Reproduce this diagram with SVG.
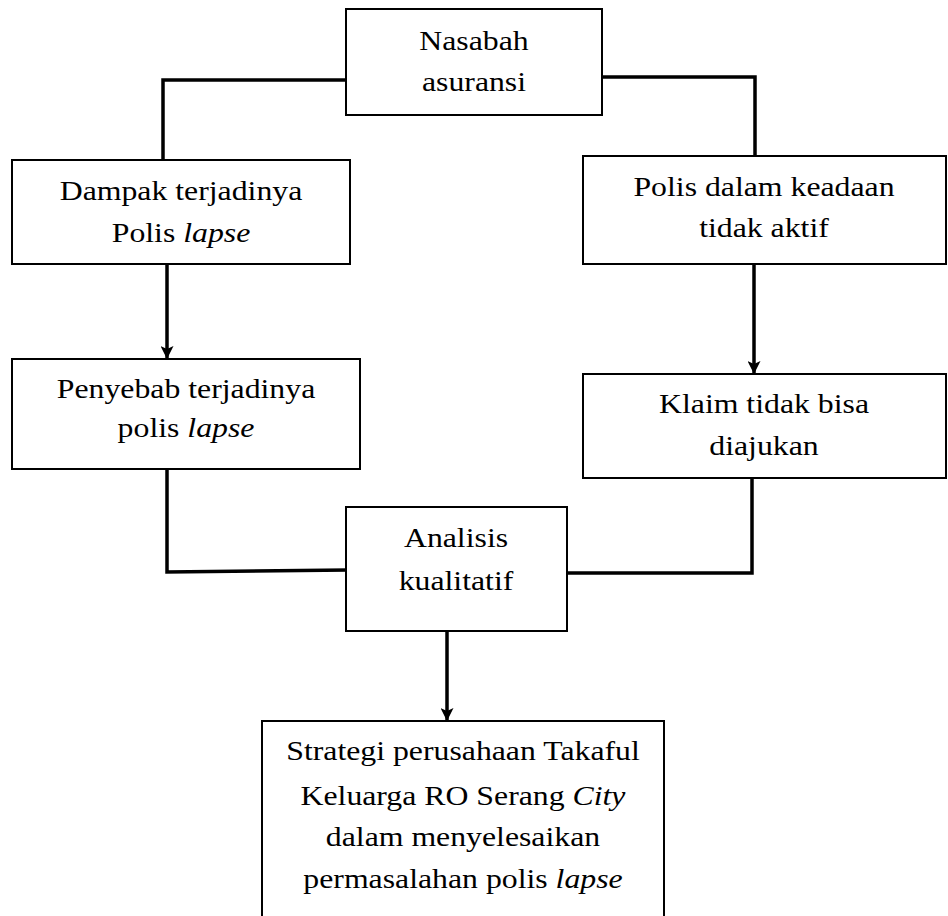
<svg xmlns="http://www.w3.org/2000/svg" width="948" height="916" viewBox="0 0 948 916">
<style>
.box{fill:#fff;stroke:#000;stroke-width:2}
.con{fill:none;stroke:#000;stroke-width:3.5;stroke-linejoin:miter;stroke-linecap:butt}
.t{font-family:"Liberation Serif","Times New Roman",serif;font-size:28px;fill:#000;text-anchor:middle}
.i{font-style:italic}
</style>
<defs>
<marker id="ah" markerUnits="userSpaceOnUse" markerWidth="13" markerHeight="13" viewBox="0 0 13 13" refX="13" refY="6.5" orient="auto">
<path d="M0,0 L13,6.5 L0,13 L3,6.5 z" fill="#000"/>
</marker>
</defs>
<rect width="948" height="916" fill="#fff"/>
<g id="connectors">
<polyline class="con" points="346,80 163,80 163,160"/>
<polyline class="con" points="602,77 755,77 755,156"/>
<line class="con" x1="167" y1="264" x2="167" y2="359" marker-end="url(#ah)"/>
<line class="con" x1="754" y1="264" x2="754" y2="374" marker-end="url(#ah)"/>
<polyline class="con" points="167,469 167,572 348,570"/>
<polyline class="con" points="752,478 752,573 568,573"/>
<line class="con" x1="447" y1="631" x2="447" y2="721" marker-end="url(#ah)"/>
</g>
<g id="n-nasabah">
<rect class="box" x="346" y="9" width="256" height="106"/>
<text class="t" transform="translate(474,50) scale(1.135,1)">Nasabah</text>
<text class="t" transform="translate(474,91) scale(1.135,1)">asuransi</text>
</g>
<g id="n-dampak">
<rect class="box" x="12" y="160" width="338" height="104"/>
<text class="t" transform="translate(181,200) scale(1.135,1)">Dampak terjadinya</text>
<text class="t" transform="translate(181,242) scale(1.135,1)">Polis <tspan class="i">lapse</tspan></text>
</g>
<g id="n-penyebab">
<rect class="box" x="12" y="359" width="348" height="110"/>
<text class="t" transform="translate(186,398) scale(1.135,1)">Penyebab terjadinya</text>
<text class="t" transform="translate(186,437) scale(1.135,1)">polis <tspan class="i">lapse</tspan></text>
</g>
<g id="n-polis">
<rect class="box" x="583" y="156" width="363" height="108"/>
<text class="t" transform="translate(764,196) scale(1.135,1)">Polis dalam keadaan</text>
<text class="t" transform="translate(764,237) scale(1.135,1)">tidak aktif</text>
</g>
<g id="n-klaim">
<rect class="box" x="583" y="374" width="363" height="104"/>
<text class="t" transform="translate(764,413) scale(1.135,1)">Klaim tidak bisa</text>
<text class="t" transform="translate(764,455) scale(1.135,1)">diajukan</text>
</g>
<g id="n-analisis">
<rect class="box" x="346" y="507" width="221" height="124"/>
<text class="t" transform="translate(456,547) scale(1.135,1)">Analisis</text>
<text class="t" transform="translate(456,590) scale(1.135,1)">kualitatif</text>
</g>
<g id="n-strategi">
<path class="box" d="M262,918 L262,721 L664,721 L664,918"/>
<text class="t" transform="translate(463,760) scale(1.135,1)">Strategi perusahaan Takaful</text>
<text class="t" transform="translate(463,805) scale(1.135,1)">Keluarga RO Serang <tspan class="i">City</tspan></text>
<text class="t" transform="translate(463,846) scale(1.135,1)">dalam menyelesaikan</text>
<text class="t" transform="translate(463,888) scale(1.135,1)">permasalahan polis <tspan class="i">lapse</tspan></text>
</g>
</svg>
